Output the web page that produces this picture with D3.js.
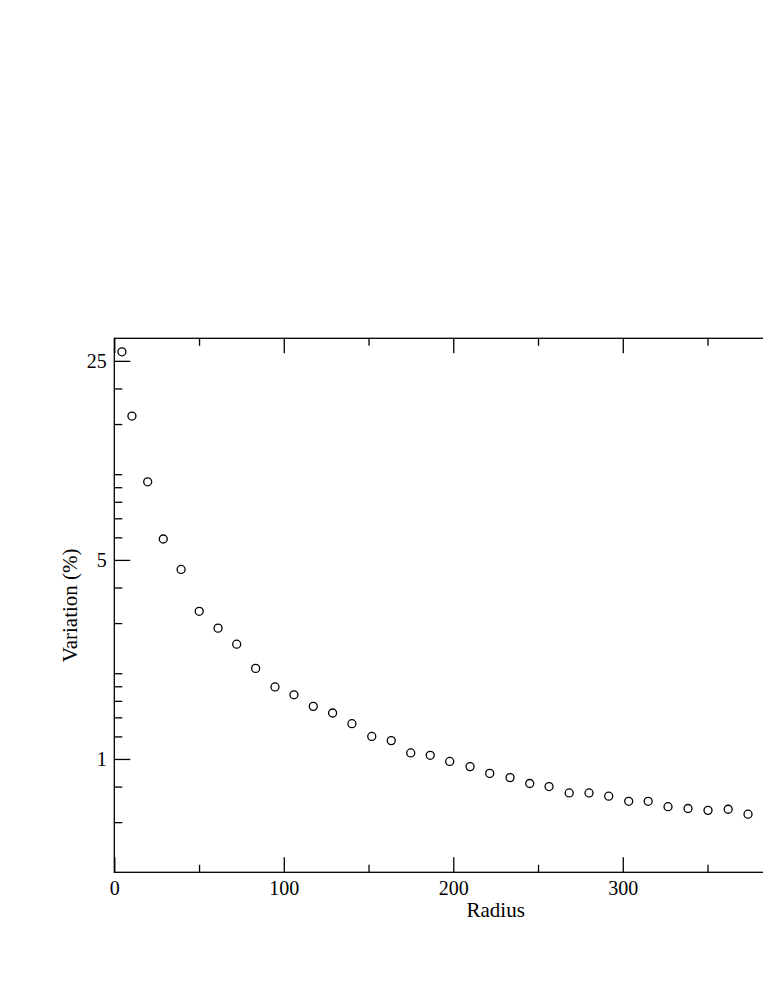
<!DOCTYPE html>
<html>
<head>
<meta charset="utf-8">
<script src="https://cdn.jsdelivr.net/npm/d3@7"></script>
<style>
  body { margin: 0; background: #fff; overflow: hidden; }
  svg { display: block; }
  .tick text { font-family: "Liberation Serif", "Times New Roman", serif; font-size: 20px; fill: #000; }
  .tick line { stroke: #000; stroke-width: 1.3; }
</style>
</head>
<body>
<div id="plot"></div>
<script>
// radius values and variation (%)
const radius = [4.5, 10.4, 19.7, 28.9, 39.4, 50.1, 61.2, 72.2, 83.4, 94.8,
  106, 117.4, 128.8, 140.2, 151.9, 163.4, 174.9, 186.4, 197.9, 209.9,
  221.5, 233.5, 245.1, 256.5, 268.4, 280.1, 291.7, 303.5, 315, 326.7,
  338.5, 350.3, 362.2, 373.9];
const variation = [26.9, 16.0, 9.40, 5.92, 4.63, 3.30, 2.88, 2.53, 2.08, 1.79,
  1.68, 1.53, 1.45, 1.33, 1.20, 1.16, 1.05, 1.03, 0.98, 0.94,
  0.89, 0.86, 0.82, 0.80, 0.76, 0.76, 0.74, 0.71, 0.71, 0.68,
  0.67, 0.66, 0.666, 0.64];

// only the ticks that fall inside the page
const xMajor = [0, 100, 200, 300];
const xMinor = [50, 150, 250, 350];
const yMajor = [1, 5, 25];
const yMinor = [0.6, 0.8, 1.2, 1.4, 1.6, 1.8, 2, 3, 4, 6, 7, 8, 9, 10, 15, 20];

window.addEventListener("load", main);

function main(){
  let [svgWidth, svgHeight] = [763, 987];
  let [left, top, bottom] = [114.3, 338.3, 872.3];
  let plotW = 762.7; // plot runs past the right edge of the page

  let svg = d3.select('#plot').append('svg')
    .attr('width', svgWidth)
    .attr('height', svgHeight);

  let xsc = d3.scaleLinear().domain([0, 450]).range([left, left + plotW]);
  let ysc = d3.scaleLog().domain([0.4, 30]).range([bottom, top]);

  // bottom axis: labels + inward ticks
  svg.append('g')
    .attr('transform', `translate(0,${bottom})`)
    .call(d3.axisBottom(xsc).tickValues(xMajor).tickFormat(d3.format('d'))
      .tickSizeInner(-15).tickSizeOuter(0).tickPadding(8.5))
    .call(g => g.select('.domain').remove());
  svg.append('g')
    .attr('transform', `translate(0,${bottom})`)
    .call(d3.axisBottom(xsc).tickValues(xMinor).tickFormat('')
      .tickSizeInner(-7.5).tickSizeOuter(0))
    .call(g => g.select('.domain').remove());

  // top axis: ticks only
  svg.append('g')
    .attr('transform', `translate(0,${top})`)
    .call(d3.axisTop(xsc).tickValues(xMajor).tickFormat('')
      .tickSizeInner(-15).tickSizeOuter(0))
    .call(g => g.select('.domain').remove());
  svg.append('g')
    .attr('transform', `translate(0,${top})`)
    .call(d3.axisTop(xsc).tickValues(xMinor).tickFormat('')
      .tickSizeInner(-7.5).tickSizeOuter(0))
    .call(g => g.select('.domain').remove());

  // left axis (log)
  svg.append('g')
    .attr('transform', `translate(${left},0)`)
    .call(d3.axisLeft(ysc).tickValues(yMajor).tickFormat(d3.format('d'))
      .tickSizeInner(-16).tickSizeOuter(0).tickPadding(7.6))
    .call(g => g.select('.domain').remove());
  svg.append('g')
    .attr('transform', `translate(${left},0)`)
    .call(d3.axisLeft(ysc).tickValues(yMinor).tickFormat('')
      .tickSizeInner(-8).tickSizeOuter(0))
    .call(g => g.select('.domain').remove());

  // frame
  svg.append('rect')
    .attr('x', left).attr('y', top)
    .attr('width', plotW).attr('height', bottom - top)
    .attr('fill', 'none').attr('stroke', '#000').attr('stroke-width', 1.3);

  // points
  svg.append('g').selectAll('circle')
    .data(radius)
    .join('circle')
      .attr('cx', d => xsc(d))
      .attr('cy', (d, i) => ysc(variation[i]))
      .attr('r', 4)
      .attr('fill', 'none')
      .attr('stroke', '#000')
      .attr('stroke-width', 1.3);

  // axis titles
  svg.append('text')
    .attr('x', (left + left + plotW) / 2)
    .attr('y', 917)
    .attr('text-anchor', 'middle')
    .style('font-family', '"Liberation Serif", serif')
    .style('font-size', '21px')
    .text('Radius');

  svg.append('text')
    .attr('transform', `translate(77,${(top + bottom) / 2}) rotate(-90)`)
    .attr('text-anchor', 'middle')
    .style('font-family', '"Liberation Serif", serif')
    .style('font-size', '21px')
    .text('Variation (%)');
}
</script>
</body>
</html>
